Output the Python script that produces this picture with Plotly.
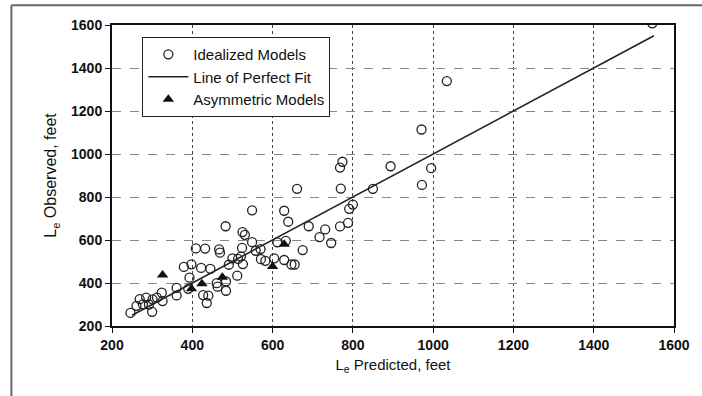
import plotly.graph_objects as go

# Idealized models: (predicted, observed) in feet
ideal_pred = [246, 261, 269, 277, 285, 292, 301, 300, 312, 324, 326,
              361, 361, 379, 398, 393, 390, 409, 432, 422, 445, 427, 436, 440,
              461, 463, 467, 469, 484, 484, 483, 491, 500, 512, 514, 521, 524,
              526, 525, 531, 549, 549, 558, 570, 571, 582, 604, 612, 629, 639,
              629, 633, 647, 655, 661, 675, 690, 717, 731, 746, 768, 770, 788,
              791, 800, 850, 774, 768, 894, 1546, 1034, 971, 995, 972]
ideal_obs = [261, 294, 325, 301, 332, 300, 324, 266, 332, 355, 316,
             377, 342, 475, 487, 425, 373, 561, 560, 470, 466, 344, 307, 341,
             399, 383, 556, 541, 407, 364, 664, 485, 515, 434, 512, 523, 563,
             488, 637, 624, 738, 590, 550, 558, 511, 503, 515, 589, 736, 685,
             507, 596, 486, 486, 838, 553, 664, 613, 649, 586, 663, 839, 680,
             745, 765, 838, 964, 937, 943, 1608, 1339, 1114, 934, 856]

# Asymmetric models
asym_pred = [326, 398, 424, 475, 600, 629]
asym_obs = [437, 373, 396, 427, 477, 580]

# Line of perfect fit
fit_x = [250, 1550]
fit_y = [250, 1550]

x_ticks = [200, 400, 600, 800, 1000, 1200, 1400, 1600]
y_ticks = [200, 400, 600, 800, 1000, 1200, 1400, 1600]

FONT = "Liberation Sans, Arial, sans-serif"

fig = go.Figure()
fig.add_trace(go.Scatter(
    x=ideal_pred, y=ideal_obs, mode="markers", name="Idealized Models",
    marker=dict(symbol="circle-open", size=9, color="#222", line=dict(width=1.3)),
))
fig.add_trace(go.Scatter(
    x=fit_x, y=fit_y, mode="lines", name="Line of Perfect Fit",
    line=dict(color="#222", width=1.6),
))
fig.add_trace(go.Scatter(
    x=asym_pred, y=asym_obs, mode="markers", name="Asymmetric Models",
    marker=dict(symbol="triangle-up", size=10, color="#111"),
))

fig.update_layout(
    width=702, height=396,
    margin=dict(l=112, r=20, t=25, b=70),
    paper_bgcolor="white", plot_bgcolor="white",
    font=dict(family=FONT, color="#111"),
    showlegend=True,
    legend=dict(
        x=0.054, y=0.96, xanchor="left", yanchor="top",
        bordercolor="#222", borderwidth=1, bgcolor="white",
        font=dict(family=FONT, size=15, color="#111"),
        itemwidth=40, tracegroupgap=0,
    ),
    shapes=[
        dict(type="line", xref="paper", yref="paper",
             x0=-0.179, x1=1.1, y0=1.066, y1=1.066,
             line=dict(color="#666", width=2)),
        dict(type="line", xref="paper", yref="paper",
             x0=-0.179, x1=-0.179, y0=1.066, y1=-0.3,
             line=dict(color="#666", width=2)),
    ],
)

fig.update_xaxes(
    range=[200, 1600], tickvals=x_ticks, ticktext=[str(v) for v in x_ticks],
    showline=True, linecolor="#111", linewidth=2, mirror=True,
    ticks="outside", ticklen=5, tickcolor="#111",
    tickfont=dict(family=FONT, size=14, weight="bold", color="#111"),
    showgrid=True, gridcolor="#444", gridwidth=1, griddash="dot",
    zeroline=False,
    title=dict(text="L<sub>e</sub> Predicted, feet",
               font=dict(family=FONT, size=15, color="#111"), standoff=8),
)
fig.update_yaxes(
    range=[200, 1600], tickvals=y_ticks, ticktext=[str(v) for v in y_ticks],
    showline=True, linecolor="#111", linewidth=2, mirror=True,
    ticks="outside", ticklen=5, tickcolor="#111",
    tickfont=dict(family=FONT, size=14, weight="bold", color="#111"),
    showgrid=True, gridcolor="#888", gridwidth=1, griddash="dash",
    zeroline=False,
    title=dict(text="L<sub>e</sub> Observed, feet",
               font=dict(family=FONT, size=16, color="#111"), standoff=10),
)

fig.write_html("out.html")
